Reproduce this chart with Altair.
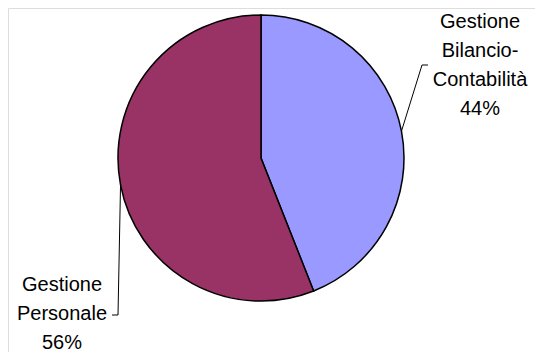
import math
import altair as alt
import pandas as pd

# ---- data ----
categories = ["Gestione Bilancio-Contabilità", "Gestione Personale"]
values = [44, 56]
label_lines = [["Gestione", "Bilancio-", "Contabilità", "44%"],
               ["Gestione", "Personale", "56%"]]
colors = ["#9999FF", "#993366"]

# ---- layout (chart pixel coords) ----
W, H = 527, 344
CX, CY, R = 253, 150, 143
# label first-baseline positions and elbow of leader lines
label_anchor = [(472, 20), (54, 283)]
elbow = [[(414, 57), (420, 57)], [(110, 307), (104, 307)]]
LINE_H = 29

pie_df = pd.DataFrame({"cat": categories, "val": values, "ord": [0, 1]})

total = sum(values)
lines_rows, text_rows = [], []
cum = 0
for i, v in enumerate(values):
    mid = (cum + v / 2) / total * 2 * math.pi
    cum += v
    ex = CX + R * math.sin(mid)
    ey = CY - R * math.cos(mid)
    pts = [(ex, ey)] + elbow[i]
    for k, (px, py) in enumerate(pts):
        lines_rows.append({"g": i, "k": k, "x": px, "y": py})
    ax, ay = label_anchor[i]
    for j, t in enumerate(label_lines[i]):
        text_rows.append({"x": ax, "y": ay + j * LINE_H, "t": t})

xs = alt.Scale(domain=[0, W], range=[0, W])
ys = alt.Scale(domain=[0, H], range=[0, H])

pie = alt.Chart(pie_df).mark_arc(radius=R, stroke="black", strokeWidth=1.5).encode(
    theta=alt.Theta("val:Q", stack=True),
    order=alt.Order("ord:Q"),
    color=alt.Color("cat:N", scale=alt.Scale(domain=categories, range=colors), legend=None),
    x=alt.value(CX),
    y=alt.value(CY),
)

leaders = alt.Chart(pd.DataFrame(lines_rows)).mark_line(color="black", strokeWidth=1).encode(
    x=alt.X("x:Q", scale=xs, axis=None),
    y=alt.Y("y:Q", scale=ys, axis=None),
    detail="g:N",
    order="k:Q",
)

texts = alt.Chart(pd.DataFrame(text_rows)).mark_text(
    font="Liberation Sans", fontSize=20, align="center", baseline="alphabetic", color="black"
).encode(
    x=alt.X("x:Q", scale=xs, axis=None),
    y=alt.Y("y:Q", scale=ys, axis=None),
    text="t:N",
)

chart = alt.layer(pie, leaders, texts).properties(
    width=W, height=H, padding=0, autosize=alt.AutoSizeParams(type="none")
).configure_view(stroke=None).configure(background="white")

chart.save("out.html", embed_options={"renderer": "svg", "actions": False})
